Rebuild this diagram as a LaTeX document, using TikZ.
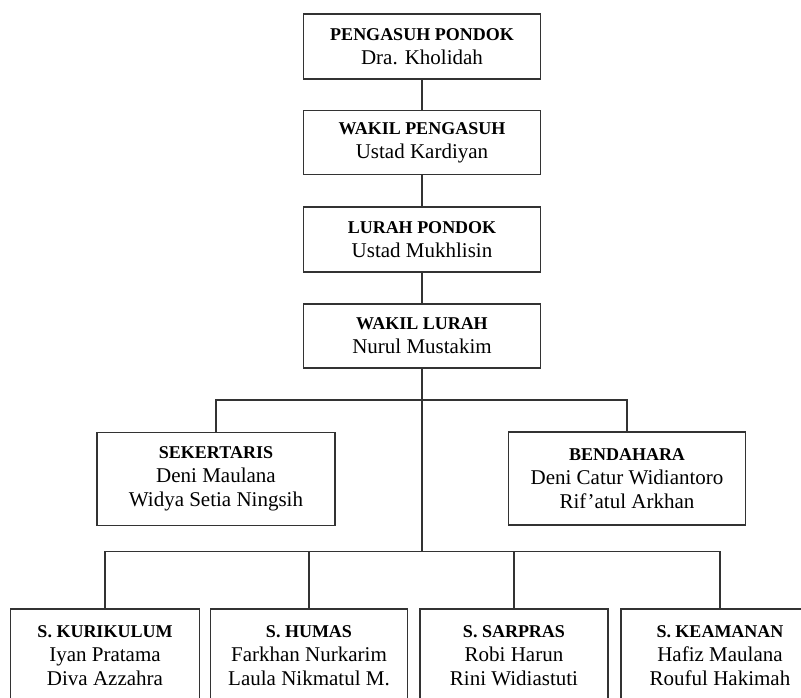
\documentclass[tikz,border=0pt]{standalone}
\usepackage{fontspec}
\setmainfont{Liberation Serif}
\newcommand{\jabatan}[1]{{\fontsize{18}{24}\selectfont\bfseries #1}}
\begin{document}
\begin{tikzpicture}[x=1pt,y=-1pt,
  kotak/.style={draw=black!80,line width=1.2pt,fill=white,align=center,inner sep=0pt,
    font=\fontsize{21}{24}\selectfont},
  atas/.style={kotak,minimum width=237pt,minimum height=64pt},
  tengah/.style={kotak,minimum width=237pt,minimum height=93pt},
  bawah/.style={kotak,minimum height=93pt},
  garis/.style={draw=black!80,line width=1.2pt}]
\clip (0,0) rectangle (801,697);
\fill[white] (0,0) rectangle (801,697);
\node[atas,minimum height=65pt] (pengasuh) at (422,46.5) {\jabatan{PENGASUH PONDOK}\\Dra. Kholidah};
\node[atas] (wakilpengasuh) at (422,142.5) {\jabatan{WAKIL PENGASUH}\\Ustad Kardiyan};
\node[atas,minimum height=65pt] (lurah) at (422,239.5) {\jabatan{LURAH PONDOK}\\Ustad Mukhlisin};
\node[atas] (wakillurah) at (422,336) {\jabatan{WAKIL LURAH}\\Nurul Mustakim};
\node[tengah,minimum width=238pt] (sekertaris) at (216,479) {\jabatan{SEKERTARIS}\\Deni Maulana\\Widya Setia Ningsih};
\node[tengah] (bendahara) at (627,478.5) {\jabatan{BENDAHARA}\\Deni Catur Widiantoro\\Rif’atul Arkhan};
\node[bawah,minimum width=189pt] (kurikulum) at (105,655.5) {\jabatan{S. KURIKULUM}\\Iyan Pratama\\Diva Azzahra};
\node[bawah,minimum width=197pt] (humas) at (309,655.5) {\jabatan{S. HUMAS}\\Farkhan Nurkarim\\Laula Nikmatul M.};
\node[bawah,minimum width=188pt] (sarpras) at (514,655.5) {\jabatan{S. SARPRAS}\\Robi Harun\\Rini Widiastuti};
\node[bawah,minimum width=198pt] (keamanan) at (720,655.5) {\jabatan{S. KEAMANAN}\\Hafiz Maulana\\Rouful Hakimah};
\coordinate (cabang) at (422,400);
\coordinate (ranting) at (422,551.5);
\draw[garis] (pengasuh) -- (wakilpengasuh);
\draw[garis] (wakilpengasuh) -- (lurah);
\draw[garis] (lurah) -- (wakillurah);
\draw[garis] (wakillurah.south) -- (ranting);
\draw[garis] (sekertaris.north) |- (cabang) -| (bendahara.north);
\draw[garis] (kurikulum.north) |- (ranting) -| (keamanan.north);
\draw[garis] (humas.north) |- (ranting);
\draw[garis] (sarpras.north) |- (ranting);
\end{tikzpicture}
\end{document}
